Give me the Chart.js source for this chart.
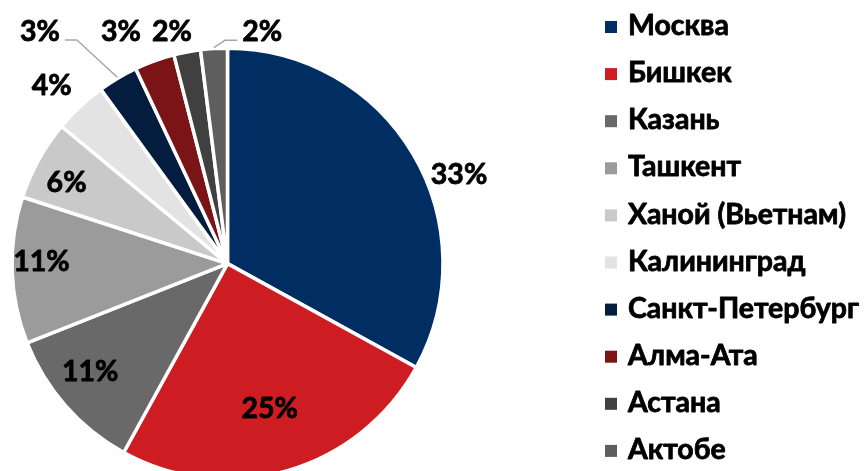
<!DOCTYPE html>
<html>
<head>
<meta charset="utf-8">
<script src="https://cdn.jsdelivr.net/npm/chart.js@4"></script>
<style>
    html, body { margin: 0; padding: 0; background: #fff; overflow: hidden; }
    #wrap { position: relative; width: 865px; height: 481px; }
</style>
</head>
<body>
<div id="wrap"><canvas id="pieChart"></canvas></div>
<script>
// ================= DATA =================
const cities = ["Москва", "Бишкек", "Казань", "Ташкент", "Ханой (Вьетнам)", "Калининград",
    "Санкт-Петербург", "Алма-Ата", "Астана", "Актобе"];
const shares = [33, 25, 11, 11, 6, 4, 3, 3, 2, 2];

// ================= STYLE =================
const sliceColors = ["#002e63", "#ce1d22", "#696969", "#9b9b9b", "#c9c9c9", "#e3e3e3",
    "#041c3d", "#7a1417", "#404040", "#5e5e5e"];
const FONT = "bold 28.5px Lato, Roboto, sans-serif";

// label placement: radius from centre (px), optional angle override (deg from top, clockwise)
const labelPlace = [
    { r: 248, a: 69 },
    { r: 151 },
    { r: 175, a: 231.7 },
    { r: 186, a: 270.5 },
    { r: 180, a: 296.6 },
    { r: 250, a: 315.3 },
    { r: 298, a: 321, leader: true },
    { r: 255, a: 335.3 },
    { r: 238, a: 346.5 },
    { r: 234, a: 8.5, leader: true }
];

// heavy text: fill plus a thin stroke of the same colour
function heavyText(ctx, text, x, y) {
    ctx.fillText(text, x, y);
    ctx.strokeText(text, x, y);
}

// ================= LABELS + LEGEND PLUGIN =================
const pieExtras = {
    id: "pieExtras",
    afterDatasetsDraw(chart) {
        const ctx = chart.ctx;
        const meta = chart.getDatasetMeta(0);
        ctx.save();
        ctx.font = FONT;
        ctx.textAlign = "center";
        ctx.textBaseline = "middle";
        ctx.lineJoin = "round";

        meta.data.forEach((arc, i) => {
            const p = arc.getProps(["x", "y", "startAngle", "endAngle", "outerRadius"], true);
            const place = labelPlace[i];
            let ang = (p.startAngle + p.endAngle) / 2;
            if (place.a !== undefined) {
                ang = place.a * Math.PI / 180 - Math.PI / 2;
            }
            const lx = p.x + Math.cos(ang) * place.r;
            const ly = p.y + Math.sin(ang) * place.r;

            if (place.leader) {
                const mid = (p.startAngle + p.endAngle) / 2;
                const ex = p.x + Math.cos(mid) * (p.outerRadius + 1);
                const ey = p.y + Math.sin(mid) * (p.outerRadius + 1);
                const half = ctx.measureText(shares[i] + "%").width / 2;
                const side = lx < ex ? 1 : -1;
                const tx = lx + side * (half + 5);
                ctx.strokeStyle = "#a6a6a6";
                ctx.lineWidth = 1.5;
                ctx.beginPath();
                ctx.moveTo(tx, ly + 8);
                ctx.lineTo(tx + side * 12, ly + 8);
                ctx.lineTo(ex, ey);
                ctx.stroke();
            }

            ctx.fillStyle = "#000";
            ctx.strokeStyle = "#000";
            ctx.lineWidth = 0.8;
            heavyText(ctx, shares[i] + "%", lx, ly);
        });

        // legend
        ctx.textAlign = "left";
        cities.forEach((name, i) => {
            const y = 27 + i * 47.1;
            ctx.fillStyle = sliceColors[i];
            ctx.fillRect(605, y - 6, 12, 12);
            ctx.fillStyle = "#000";
            ctx.strokeStyle = "#000";
            ctx.lineWidth = 0.8;
            heavyText(ctx, name, 628, y - 1);
        });
        ctx.restore();
    }
};

// ================= CHART =================
const pieChart = document.getElementById("pieChart");

if (pieChart && typeof Chart !== "undefined") {

    new Chart(pieChart, {
        type: "pie",
        data: {
            labels: cities,
            datasets: [{
                data: shares,
                backgroundColor: sliceColors,
                borderColor: "#ffffff",
                borderWidth: 3.5
            }]
        },
        options: {
            responsive: true,
            maintainAspectRatio: false,
            animation: false,
            layout: {
                padding: { left: 10.25, right: 420.25, top: 46.25, bottom: 0 }
            },
            plugins: {
                legend: { display: false },
                tooltip: { enabled: false }
            }
        },
        plugins: [pieExtras]
    });

}
</script>
</body>
</html>
